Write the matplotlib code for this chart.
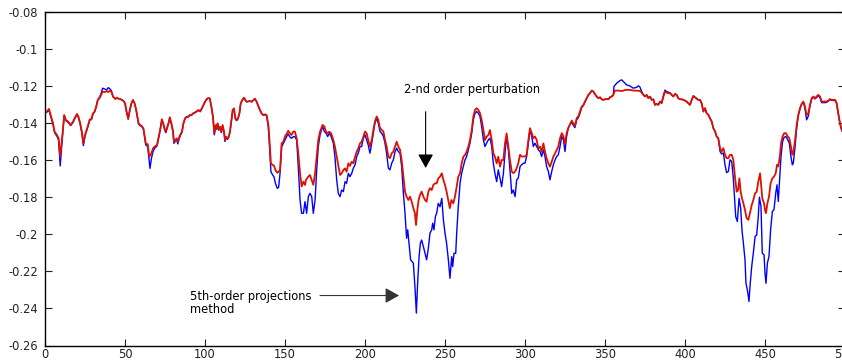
import matplotlib
matplotlib.use('Agg')
import matplotlib.pyplot as plt

# red: 2-nd order perturbation
x_red = [1, 2.5, 5, 6, 7.5, 8.5, 9.5, 11, 12, 13, 14.5, 16, 17.5, 19, 20, 21, 22, 23, 24, 25,
         26, 27, 28, 29, 30, 31, 32, 33, 34, 35, 36, 37.5, 38.5, 39.5, 40.5, 41.5, 42.5, 44, 45, 46,
         47, 48, 49, 50, 51, 52, 53, 54, 55, 56, 57, 58.5, 59.5, 60.5, 61.5, 62.5, 63, 63.5, 64.2, 65.2,
         66.5, 67.5, 68.5, 70, 71.5, 72.5, 73, 74, 75, 75.5, 76.5, 77.3, 78, 79, 80, 80.6, 81.5, 82.3, 83, 84,
         85, 85.6, 86.5, 87.5, 88.5, 89.5, 90.5, 91.5, 92.5, 93.5, 95, 96, 97, 98, 99, 100, 101, 102, 103, 104,
         105, 105.8, 106.7, 107.3, 107.9, 108.5, 109.4, 110.2, 111, 111.9, 112.5, 113.1, 114, 114.8, 115.6, 116.5, 117.3, 118.1, 119, 119.8,
         120.6, 121.5, 122.3, 123.3, 124.4, 125.2, 126, 127, 128, 129.2, 130.2, 131.2, 132.3, 133.3, 134.4, 135.4, 136.5, 137.5, 138.5, 139.6,
         140.3, 141.2, 142.3, 143.1, 144, 145.2, 146, 146.9, 147.9, 149, 150, 151.5, 152, 153, 154, 155.2, 156.2, 157.3, 158.3, 159.4,
         160.4, 161.5, 162.5, 163.1, 164.6, 165.6, 166.7, 167.7, 168.8, 169.8, 170.8, 171.9, 173.5, 174.6, 175.6, 176.7, 177.7, 178.8, 180.2, 181.2,
         182.7, 184.4, 185.4, 186.5, 187.5, 188.5, 189.6, 190.6, 191.7, 192.7, 193.8, 194.8, 195.8, 196.9, 197.9, 199, 200, 201, 202, 203.1,
         204.2, 205.2, 206.2, 207.3, 208.3, 209.4, 210.4, 211.5, 212.5, 213.5, 214.6, 215.6, 216.7, 217.7, 218.8, 219.8, 220.8, 221.9, 222.9, 224,
         225, 226, 227.1, 228.1, 229.2, 230.2, 231.2, 231.9, 232.7, 233.5, 234.4, 235.4, 236.5, 237.5, 238.5, 239.6, 240.6, 241.7, 242.7, 243.7,
         244.8, 245.8, 246.9, 248, 249, 250, 251, 252, 253, 254, 255.2, 256.2, 257.3, 258.3, 259.4, 260.4, 261.5, 262.5, 263.5, 264.6,
         265.6, 266.7, 267.7, 268.8, 269.8, 270.8, 271.9, 272.9, 274, 275, 276, 277.1, 278.1, 279.2, 280.2, 281.2, 282.3, 283.3, 284.4, 285.4,
         286.5, 287.5, 288.5, 289.6, 290.6, 291.7, 292.7, 293.8, 294.8, 295.8, 296.9, 297.9, 299, 300, 301, 302.1, 303.1, 304.2, 305.2, 306.2,
         307.3, 308.3, 309.4, 310.4, 311.5, 312.5, 313.5, 314.6, 315.6, 316.7, 317.7, 318.8, 319.8, 320.8, 321.9, 323, 324, 325, 326, 327,
         328, 329.2, 330.2, 331.2, 332.3, 333.3, 334.4, 335.4, 336.5, 337.5, 338.5, 339.6, 340.6, 341.7, 342.7, 343.8, 344.8, 345.8, 346.9, 347.9,
         349, 350, 351, 352.1, 353.1, 354.2, 355.2, 356.2, 358, 360.6, 363, 365.6, 367.7, 369.8, 371.9, 372.9, 374, 375, 376, 377.1,
         378.1, 379.2, 380.2, 381.2, 382.3, 383.3, 384.4, 385.4, 386.5, 387.5, 388.5, 389.6, 390.6, 391.7, 392.7, 393.8, 394.8, 395.8, 396.9, 397.9,
         399, 400, 401, 402.1, 403.1, 404.2, 405.2, 406.2, 407.3, 408.3, 409.4, 410.4, 411.5, 412.5, 413.5, 414.6, 415.6, 416.7, 417.7, 418.8,
         419.8, 420.8, 421.9, 422.9, 424, 425, 426, 427.1, 428.1, 429.2, 430.2, 431.2, 432.3, 433.2, 434, 434.8, 435.6, 436.5, 437.5, 438.5,
         439.6, 440.6, 441.7, 442.7, 443.8, 444.8, 445.8, 446.9, 447.5, 448.3, 449.4, 450, 450.6, 451.5, 452.5, 453.5, 454.6, 455.6, 456.7, 457.5,
         458.3, 459.4, 460, 461, 462, 463.1, 464.2, 465.2, 466.2, 467.1, 467.7, 468.8, 469.8, 470.8, 471.9, 472.9, 474, 475, 476, 477.1,
         478.1, 479.2, 480.2, 481.2, 482.3, 483.3, 484.4, 485.4, 486.5, 487.5, 488.5, 489.6, 490.6, 491.7, 492.7, 493.8, 494.8, 495.8, 496.9, 498,
         500]
y_red = [-0.1337, -0.1322, -0.1400, -0.1445, -0.1463, -0.1481, -0.1580, -0.1454, -0.1355, -0.1382, -0.1391, -0.1409, -0.1391, -0.1364, -0.1349, -0.1367, -0.1400, -0.1445, -0.1508, -0.1463,
         -0.1436, -0.1409, -0.1378, -0.1378, -0.1346, -0.1337, -0.1310, -0.1274, -0.1265, -0.1247, -0.1229, -0.1231, -0.1225, -0.1231, -0.1224, -0.1229, -0.1256, -0.1268, -0.1261, -0.1267,
         -0.1268, -0.1274, -0.1278, -0.1292, -0.1337, -0.1373, -0.1328, -0.1292, -0.1274, -0.1292, -0.1328, -0.1400, -0.1409, -0.1414, -0.1427, -0.1481, -0.1508, -0.1512, -0.1512, -0.1580,
         -0.1562, -0.1535, -0.1526, -0.1517, -0.1454, -0.1409, -0.1378, -0.1403, -0.1436, -0.1445, -0.1418, -0.1395, -0.1367, -0.1400, -0.1440, -0.1499, -0.1490, -0.1481, -0.1499, -0.1472,
         -0.1454, -0.1445, -0.1400, -0.1373, -0.1364, -0.1364, -0.1355, -0.1355, -0.1346, -0.1342, -0.1333, -0.1328, -0.1335, -0.1319, -0.1301, -0.1283, -0.1270, -0.1263, -0.1265, -0.1310,
         -0.1364, -0.1454, -0.1409, -0.1427, -0.1400, -0.1432, -0.1418, -0.1445, -0.1409, -0.1445, -0.1490, -0.1472, -0.1481, -0.1472, -0.1445, -0.1382, -0.1328, -0.1319, -0.1373, -0.1382,
         -0.1373, -0.1346, -0.1292, -0.1274, -0.1261, -0.1274, -0.1283, -0.1281, -0.1279, -0.1283, -0.1274, -0.1267, -0.1283, -0.1306, -0.1328, -0.1346, -0.1355, -0.1351, -0.1355, -0.1409,
         -0.1490, -0.1616, -0.1625, -0.1628, -0.1652, -0.1667, -0.1661, -0.1652, -0.1508, -0.1499, -0.1470, -0.1450, -0.1440, -0.1454, -0.1463, -0.1444, -0.1445, -0.1481, -0.1561, -0.1670,
         -0.1741, -0.1715, -0.1733, -0.1706, -0.1687, -0.1679, -0.1706, -0.1732, -0.1670, -0.1580, -0.1490, -0.1445, -0.1408, -0.1417, -0.1445, -0.1453, -0.1445, -0.1453, -0.1490, -0.1526,
         -0.1598, -0.1679, -0.1670, -0.1652, -0.1643, -0.1661, -0.1616, -0.1630, -0.1607, -0.1616, -0.1580, -0.1553, -0.1535, -0.1508, -0.1499, -0.1472, -0.1444, -0.1453, -0.1490, -0.1526,
         -0.1490, -0.1436, -0.1390, -0.1363, -0.1381, -0.1426, -0.1435, -0.1444, -0.1490, -0.1525, -0.1580, -0.1588, -0.1562, -0.1553, -0.1525, -0.1499, -0.1525, -0.1543, -0.1598, -0.1687,
         -0.1769, -0.1796, -0.1814, -0.1796, -0.1823, -0.1858, -0.1886, -0.1949, -0.1868, -0.1814, -0.1787, -0.1769, -0.1796, -0.1814, -0.1823, -0.1769, -0.1750, -0.1760, -0.1733, -0.1724,
         -0.1724, -0.1697, -0.1688, -0.1670, -0.1706, -0.1733, -0.1769, -0.1814, -0.1858, -0.1814, -0.1832, -0.1796, -0.1742, -0.1688, -0.1670, -0.1616, -0.1580, -0.1571, -0.1553, -0.1526,
         -0.1490, -0.1436, -0.1364, -0.1327, -0.1318, -0.1327, -0.1345, -0.1381, -0.1436, -0.1490, -0.1472, -0.1463, -0.1436, -0.1490, -0.1561, -0.1580, -0.1616, -0.1580, -0.1634, -0.1598,
         -0.1598, -0.1508, -0.1454, -0.1526, -0.1598, -0.1660, -0.1669, -0.1660, -0.1642, -0.1615, -0.1570, -0.1579, -0.1579, -0.1579, -0.1570, -0.1490, -0.1426, -0.1453, -0.1480, -0.1471,
         -0.1489, -0.1535, -0.1526, -0.1553, -0.1508, -0.1553, -0.1589, -0.1616, -0.1634, -0.1607, -0.1580, -0.1562, -0.1544, -0.1526, -0.1480, -0.1453, -0.1471, -0.1510, -0.1453, -0.1426,
         -0.1408, -0.1385, -0.1399, -0.1414, -0.1372, -0.1363, -0.1336, -0.1310, -0.1300, -0.1282, -0.1264, -0.1246, -0.1237, -0.1223, -0.1228, -0.1243, -0.1255, -0.1264, -0.1259, -0.1270,
         -0.1273, -0.1270, -0.1268, -0.1270, -0.1259, -0.1255, -0.1246, -0.1223, -0.1223, -0.1225, -0.1219, -0.1219, -0.1223, -0.1223, -0.1225, -0.1234, -0.1246, -0.1255, -0.1246, -0.1264,
         -0.1255, -0.1273, -0.1270, -0.1300, -0.1295, -0.1300, -0.1282, -0.1291, -0.1255, -0.1228, -0.1234, -0.1237, -0.1237, -0.1246, -0.1255, -0.1241, -0.1246, -0.1264, -0.1270, -0.1270,
         -0.1273, -0.1277, -0.1282, -0.1291, -0.1300, -0.1273, -0.1252, -0.1259, -0.1266, -0.1273, -0.1273, -0.1291, -0.1336, -0.1318, -0.1345, -0.1354, -0.1372, -0.1390, -0.1426, -0.1444,
         -0.1471, -0.1480, -0.1534, -0.1552, -0.1534, -0.1570, -0.1588, -0.1588, -0.1570, -0.1570, -0.1597, -0.1687, -0.1769, -0.1760, -0.1697, -0.1769, -0.1805, -0.1832, -0.1868, -0.1912,
         -0.1921, -0.1885, -0.1841, -0.1814, -0.1778, -0.1769, -0.1715, -0.1670, -0.1724, -0.1805, -0.1832, -0.1868, -0.1885, -0.1832, -0.1796, -0.1724, -0.1697, -0.1688, -0.1670, -0.1624,
         -0.1633, -0.1570, -0.1508, -0.1471, -0.1453, -0.1453, -0.1471, -0.1480, -0.1525, -0.1570, -0.1561, -0.1489, -0.1408, -0.1354, -0.1318, -0.1295, -0.1282, -0.1309, -0.1354, -0.1345,
         -0.1300, -0.1264, -0.1255, -0.1264, -0.1255, -0.1246, -0.1255, -0.1282, -0.1282, -0.1282, -0.1282, -0.1277, -0.1269, -0.1273, -0.1273, -0.1273, -0.1291, -0.1345, -0.1400, -0.1435,
         -0.1460]

# blue: 5th-order projections method
x_blue = [1, 2.5, 5, 6, 7.5, 8.5, 9.5, 11, 12, 13, 14.5, 16, 17.5, 19, 20, 21, 22, 23, 24, 25,
          26, 27, 28, 29, 30, 31, 32, 33, 34, 35, 36, 37.5, 38.5, 39.5, 40.5, 41.5, 42.5, 44, 45, 46,
          47, 48, 49, 50, 51, 52, 53, 54, 55, 56, 57, 58.5, 59.5, 60.5, 61.5, 62.5, 63, 63.5, 64.2, 65.6,
          66.5, 67.5, 68.5, 70, 71.5, 72.5, 73, 74, 75, 75.5, 76.5, 77.3, 78, 79, 80, 80.6, 81.5, 82.3, 83, 84,
          85, 85.6, 86.5, 87.5, 88.5, 89.5, 90.5, 91.5, 92.5, 93.5, 95, 96, 97, 98, 99, 100, 101, 102, 103, 104,
          105, 105.8, 106.7, 107.3, 107.9, 108.5, 109.4, 110.2, 111, 111.9, 112.5, 113.1, 114, 114.8, 115.6, 116.5, 117.3, 118.1, 119, 119.8,
          120.6, 121.5, 122.3, 123.3, 124.4, 125.2, 126, 127, 128, 129.2, 130.2, 131.2, 132.3, 133.3, 134.4, 135.4, 136.5, 137.5, 138.5, 139.6,
          140.3, 141.2, 142.3, 143.1, 144, 145.2, 146, 146.9, 147.9, 149, 150, 151.5, 152, 153, 154, 155.2, 156.2, 157.3, 158.3, 159.4,
          160.4, 161.5, 162.5, 163.5, 164.6, 165.6, 166.7, 167.7, 168.8, 169.8, 170.8, 171.9, 173.5, 174.6, 175.6, 176.7, 177.7, 178.8, 180.2, 181.2,
          182.3, 183.3, 184.4, 185.4, 186.5, 187.5, 188.5, 189.6, 190.6, 191.7, 192.7, 193.8, 194.8, 195.8, 196.9, 197.9, 199, 200, 201, 202,
          203.1, 204.2, 205.2, 206.2, 207.3, 208.3, 209.4, 210.4, 211.5, 212.5, 213.5, 214.6, 215.6, 216.7, 217.7, 218.8, 219.8, 220.8, 221.9, 222.9,
          224, 225, 226, 226.7, 227.5, 228.5, 229.4, 230.2, 231.2, 232.1, 232.9, 233.8, 234.6, 235.4, 236.5, 237.5, 238.5, 239.6, 240.6, 241.7,
          242.3, 243.1, 244, 244.8, 245.8, 246.9, 248, 249, 250, 251, 252.1, 253.1, 254.2, 254.8, 255.6, 256.7, 257.3, 258.3, 259.4, 260.4,
          261.5, 262.5, 263.5, 264.6, 265.6, 266.7, 267.7, 268.8, 269.8, 270.8, 271.9, 272.9, 274, 275, 276, 277.1, 278.1, 279.2, 280.2, 281.2,
          282.3, 283.3, 284.4, 285.4, 286.5, 287.5, 288.5, 289.6, 290.6, 291.7, 292.7, 293.8, 294.8, 295.8, 296.9, 297.9, 299, 300, 301, 302.1,
          303.1, 304.2, 305.2, 306.2, 307.3, 308.3, 309.4, 310.4, 311.5, 312.5, 313.5, 314.6, 315.6, 316.7, 317.7, 318.8, 319.8, 320.8, 321.9, 322.9,
          324, 325, 326, 327, 328, 329.2, 330.2, 331.2, 332.3, 333.3, 334.4, 335.4, 336.5, 337.5, 338.5, 339.6, 340.6, 341.7, 342.7, 343.8,
          344.8, 345.8, 346.9, 347.9, 349, 350, 351, 352.1, 353.1, 354.2, 355.2, 355.6, 357.3, 359.4, 360.4, 361.5, 362.5, 363.5, 365.6, 367.7,
          369.8, 370.8, 371.9, 372.9, 374, 375, 376, 377.1, 378.1, 379.2, 380.2, 381.2, 382.3, 383.3, 384.4, 385.4, 386.5, 387.5, 388.5, 389.6,
          390.6, 391.7, 392.7, 393.8, 394.8, 395.8, 396.9, 397.9, 399, 400, 401, 402.1, 403.1, 404.2, 405.2, 406.2, 407.3, 408.3, 409.4, 410.4,
          411.5, 412.5, 413.5, 414.6, 415.6, 416.7, 417.7, 418.8, 419.8, 420.8, 421.9, 422.9, 424, 425, 426, 427.1, 428.1, 429.2, 430.2, 431.7,
          432.7, 433.8, 434.8, 435.6, 436.5, 437.5, 438.1, 439, 440, 440.6, 441.7, 442.7, 443.8, 444.8, 445.8, 446.5, 447.5, 448.3, 449.4, 450,
          450.6, 451.5, 452.5, 453.5, 454.6, 455.6, 456.7, 457.5, 458.3, 459.4, 460, 461, 462, 463.1, 464.2, 465.2, 466.2, 467.1, 467.7, 468.8,
          469.8, 470.8, 471.9, 472.9, 474, 475, 476, 477.1, 478.1, 479.2, 480.2, 481.2, 482.3, 483.3, 484.4, 485.4, 486.5, 487.5, 488.5, 489.6,
          490.6, 491.7, 492.7, 493.8, 494.8, 495.8, 496.9, 498, 500]
y_blue = [-0.1340, -0.1330, -0.1405, -0.1450, -0.1470, -0.1490, -0.1630, -0.1460, -0.1358, -0.1385, -0.1395, -0.1412, -0.1395, -0.1368, -0.1352, -0.1370, -0.1405, -0.1450, -0.1520, -0.1468,
          -0.1440, -0.1412, -0.1380, -0.1380, -0.1348, -0.1338, -0.1310, -0.1272, -0.1260, -0.1240, -0.1210, -0.1215, -0.1220, -0.1207, -0.1213, -0.1224, -0.1254, -0.1268, -0.1261, -0.1267,
          -0.1268, -0.1274, -0.1278, -0.1292, -0.1340, -0.1378, -0.1330, -0.1292, -0.1274, -0.1292, -0.1330, -0.1405, -0.1412, -0.1418, -0.1430, -0.1490, -0.1517, -0.1520, -0.1525, -0.1643,
          -0.1590, -0.1553, -0.1535, -0.1522, -0.1458, -0.1412, -0.1380, -0.1407, -0.1440, -0.1450, -0.1422, -0.1398, -0.1370, -0.1405, -0.1448, -0.1508, -0.1495, -0.1488, -0.1511, -0.1478,
          -0.1458, -0.1448, -0.1402, -0.1375, -0.1366, -0.1366, -0.1357, -0.1357, -0.1348, -0.1344, -0.1335, -0.1330, -0.1337, -0.1321, -0.1302, -0.1284, -0.1271, -0.1264, -0.1266, -0.1312,
          -0.1368, -0.1462, -0.1414, -0.1432, -0.1405, -0.1437, -0.1422, -0.1450, -0.1412, -0.1450, -0.1497, -0.1478, -0.1487, -0.1476, -0.1448, -0.1385, -0.1330, -0.1321, -0.1377, -0.1385,
          -0.1376, -0.1348, -0.1294, -0.1275, -0.1262, -0.1275, -0.1284, -0.1282, -0.1280, -0.1284, -0.1275, -0.1268, -0.1284, -0.1307, -0.1330, -0.1348, -0.1357, -0.1353, -0.1357, -0.1420,
          -0.1520, -0.1661, -0.1679, -0.1688, -0.1724, -0.1751, -0.1746, -0.1670, -0.1526, -0.1508, -0.1490, -0.1463, -0.1458, -0.1472, -0.1481, -0.1472, -0.1472, -0.1490, -0.1633, -0.1814,
          -0.1886, -0.1886, -0.1823, -0.1886, -0.1796, -0.1778, -0.1796, -0.1886, -0.1814, -0.1652, -0.1525, -0.1462, -0.1417, -0.1444, -0.1453, -0.1471, -0.1453, -0.1471, -0.1507, -0.1580,
          -0.1705, -0.1778, -0.1796, -0.1760, -0.1769, -0.1715, -0.1724, -0.1670, -0.1688, -0.1670, -0.1642, -0.1624, -0.1580, -0.1561, -0.1525, -0.1525, -0.1480, -0.1462, -0.1489, -0.1516,
          -0.1561, -0.1507, -0.1453, -0.1399, -0.1372, -0.1399, -0.1444, -0.1453, -0.1471, -0.1507, -0.1561, -0.1642, -0.1651, -0.1615, -0.1597, -0.1552, -0.1534, -0.1552, -0.1561, -0.1633,
          -0.1778, -0.1885, -0.2021, -0.1975, -0.2048, -0.2137, -0.2146, -0.2155, -0.2281, -0.2425, -0.2263, -0.2120, -0.2048, -0.2030, -0.2066, -0.2102, -0.2137, -0.2075, -0.1993, -0.1975,
          -0.1939, -0.1975, -0.1903, -0.1885, -0.1832, -0.1850, -0.1805, -0.1922, -0.1993, -0.2048, -0.2137, -0.2237, -0.2120, -0.2174, -0.2102, -0.2102, -0.1993, -0.1850, -0.1724, -0.1670,
          -0.1633, -0.1597, -0.1580, -0.1543, -0.1507, -0.1453, -0.1381, -0.1345, -0.1336, -0.1345, -0.1363, -0.1417, -0.1489, -0.1525, -0.1507, -0.1489, -0.1480, -0.1525, -0.1615, -0.1670,
          -0.1715, -0.1651, -0.1697, -0.1742, -0.1670, -0.1561, -0.1471, -0.1543, -0.1651, -0.1778, -0.1760, -0.1796, -0.1705, -0.1696, -0.1633, -0.1624, -0.1615, -0.1615, -0.1579, -0.1507,
          -0.1435, -0.1471, -0.1525, -0.1507, -0.1525, -0.1543, -0.1552, -0.1579, -0.1543, -0.1579, -0.1633, -0.1660, -0.1705, -0.1660, -0.1624, -0.1597, -0.1579, -0.1570, -0.1525, -0.1471,
          -0.1489, -0.1552, -0.1471, -0.1426, -0.1408, -0.1394, -0.1410, -0.1423, -0.1381, -0.1370, -0.1345, -0.1315, -0.1303, -0.1284, -0.1266, -0.1248, -0.1238, -0.1223, -0.1228, -0.1243,
          -0.1255, -0.1264, -0.1259, -0.1270, -0.1273, -0.1270, -0.1268, -0.1270, -0.1259, -0.1255, -0.1246, -0.1201, -0.1183, -0.1169, -0.1165, -0.1174, -0.1183, -0.1192, -0.1198, -0.1210,
          -0.1205, -0.1197, -0.1205, -0.1228, -0.1246, -0.1255, -0.1246, -0.1264, -0.1255, -0.1273, -0.1270, -0.1300, -0.1295, -0.1300, -0.1282, -0.1291, -0.1250, -0.1220, -0.1228, -0.1232,
          -0.1235, -0.1246, -0.1255, -0.1241, -0.1246, -0.1264, -0.1270, -0.1270, -0.1273, -0.1277, -0.1282, -0.1291, -0.1300, -0.1273, -0.1252, -0.1259, -0.1266, -0.1273, -0.1273, -0.1291,
          -0.1336, -0.1318, -0.1345, -0.1354, -0.1372, -0.1390, -0.1426, -0.1444, -0.1471, -0.1480, -0.1552, -0.1565, -0.1560, -0.1624, -0.1666, -0.1660, -0.1597, -0.1606, -0.1697, -0.1904,
          -0.1930, -0.1805, -0.1859, -0.1975, -0.2048, -0.2137, -0.2264, -0.2300, -0.2362, -0.2282, -0.2173, -0.2101, -0.2011, -0.2003, -0.1903, -0.1799, -0.1849, -0.2101, -0.2110, -0.2209,
          -0.2264, -0.2155, -0.2119, -0.1975, -0.1876, -0.1867, -0.1777, -0.1732, -0.1822, -0.1669, -0.1579, -0.1498, -0.1475, -0.1471, -0.1489, -0.1507, -0.1579, -0.1624, -0.1615, -0.1525,
          -0.1426, -0.1358, -0.1320, -0.1297, -0.1285, -0.1320, -0.1381, -0.1360, -0.1305, -0.1268, -0.1258, -0.1268, -0.1260, -0.1250, -0.1262, -0.1288, -0.1288, -0.1288, -0.1286, -0.1280,
          -0.1272, -0.1276, -0.1276, -0.1276, -0.1294, -0.1350, -0.1405, -0.1440, -0.1465]

x_ticks = [0, 50, 100, 150, 200, 250, 300, 350, 400, 450, 500]
y_ticks = [-0.26, -0.24, -0.22, -0.2, -0.18, -0.16, -0.14, -0.12, -0.1, -0.08]
y_tick_labels = ['-0.26', '-0.24', '-0.22', '-0.2', '-0.18', '-0.16', '-0.14', '-0.12', '-0.1', '-0.08']

plt.rcParams['font.family'] = ['DejaVu Sans']

fig = plt.figure(figsize=(8.42, 3.63), dpi=100)
ax = fig.add_axes([45 / 842, 17.5 / 363, 800 / 842, 333.2 / 363])

ax.plot(x_blue, y_blue, color='#0000ff', lw=1.0)
ax.plot(x_red, y_red, color='#dd1100', lw=1.3)

ax.set_xlim(0, 500)
ax.set_ylim(-0.26, -0.08)
ax.set_xticks(x_ticks)
ax.set_yticks(y_ticks)
ax.set_yticklabels(y_tick_labels)
ax.tick_params(direction='in', length=5, width=0.8, top=True, right=True,
               labelsize=8.3, colors='#222222')
ax.tick_params(axis='y', pad=5)
ax.tick_params(axis='x', pad=2)
for s in ax.spines.values():
    s.set_linewidth(1.0)

ax.text(224.5, -0.1219, '2-nd order perturbation', fontsize=8.3, va='center', ha='left')
ax.annotate('', xy=(237.9, -0.1641), xytext=(237.9, -0.1337),
            arrowprops=dict(arrowstyle='-|>,head_length=0.85,head_width=0.47',
                            color='black', lw=0.8, shrinkA=0, shrinkB=0))

ax.text(90.6, -0.2372, '5th-order projections\nmethod', fontsize=8.3, va='center',
        ha='left', linespacing=1.0)
ax.annotate('', xy=(221.3, -0.2330), xytext=(171.9, -0.2330),
            arrowprops=dict(arrowstyle='-|>,head_length=0.85,head_width=0.47',
                            color='#333333', lw=0.8, shrinkA=0, shrinkB=0))

fig.savefig('out.png', dpi=100)
